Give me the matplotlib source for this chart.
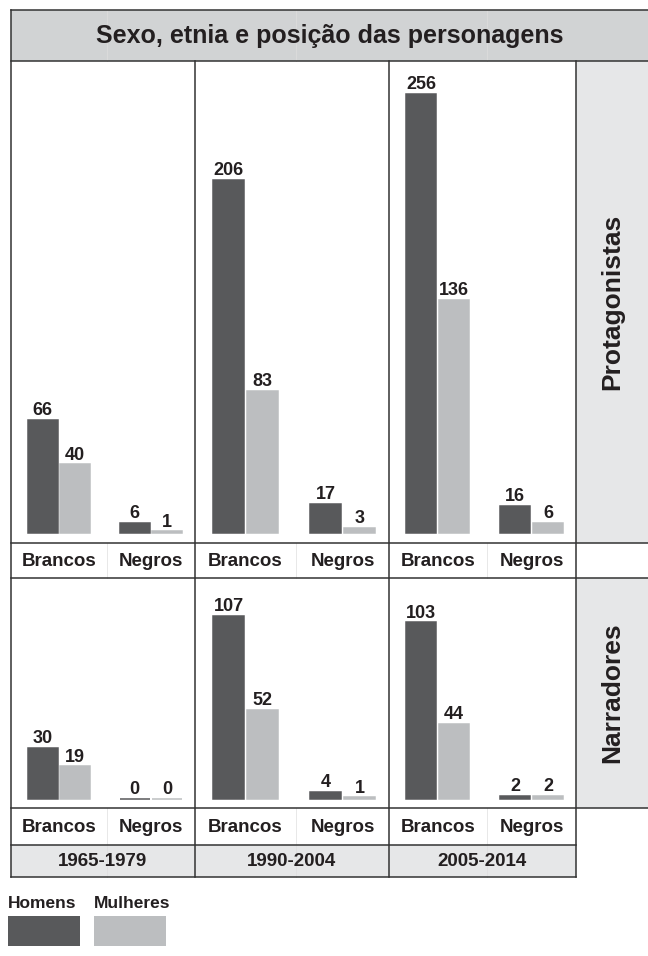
import numpy as np
import matplotlib.pyplot as plt
from matplotlib.patches import Rectangle

plt.rcParams['font.family'] = ['Liberation Sans', 'DejaVu Sans']
plt.rcParams['font.weight'] = 'bold'

titulo = "Sexo, etnia e posição das personagens"
periodos = ["1965-1979", "1990-2004", "2005-2014"]
categorias = ["Brancos", "Negros"]
linhas = ["Protagonistas", "Narradores"]
serie_nomes = ["Homens", "Mulheres"]

# [periodo][categoria]
protag_homens = [[66, 6], [206, 17], [256, 16]]
protag_mulheres = [[40, 1], [83, 3], [136, 6]]
narr_homens = [[30, 0], [107, 4], [103, 2]]
narr_mulheres = [[19, 0], [52, 1], [44, 2]]

dark = "#58595b"
light = "#bcbec0"
band = "#d1d3d4"
strip = "#e6e7e8"
ink = "#231f20"
line_c = "#333333"

W, H = 648, 956
fig = plt.figure(figsize=(W / 100, H / 100), dpi=100)
bg = fig.add_axes([0, 0, 1, 1])
bg.set_xlim(0, W)
bg.set_ylim(H, 0)
bg.axis("off")


def px_axes(x0, y0, x1, y1):
    return fig.add_axes([x0 / W, 1 - y1 / H, (x1 - x0) / W, (y1 - y0) / H])


# layout in pixels
col_x = [10.5, 194.5, 388.5, 576]
x_right = 648
y_top, y_title = 9.5, 60.5
y_p1, y_lab1, y_p2, y_lab2, y_per = 543, 578, 808, 845, 877
panel_rows = [(y_title, y_p1), (y_lab1, y_p2)]
ylims = [(-5.8, 275.6), (-5.25, 128.9)]
xlim = (-0.526, 1.474)
off, bw = 0.175, 0.32

# backgrounds
bg.add_patch(Rectangle((col_x[0], y_top), x_right - col_x[0], y_title - y_top, fc=band, ec="none"))
for (t, b) in panel_rows:
    bg.add_patch(Rectangle((col_x[3], t), x_right - col_x[3], b - t, fc=strip, ec="none"))
bg.add_patch(Rectangle((col_x[0], y_lab2), col_x[3] - col_x[0], y_per - y_lab2, fc=strip, ec="none"))

# very faint inner lines
for i in range(3):
    fx = col_x[i] + 0.525 * (col_x[i + 1] - col_x[i])
    for (t, b) in [(y_top, y_title), (y_p1, y_lab1), (y_p2, y_lab2), (y_lab2, y_per)]:
        bg.plot([fx, fx], [t, b], color="#dedede", lw=0.5)

# grid lines
for y in [y_top, y_title, y_p1, y_lab1, y_p2]:
    bg.plot([col_x[0], x_right], [y, y], color=line_c, lw=1.1)
for y in [y_lab2, y_per]:
    bg.plot([col_x[0], col_x[3]], [y, y], color=line_c, lw=1.1)
bg.plot([col_x[0], col_x[0]], [y_top, y_per], color=line_c, lw=1.1)
for x in col_x[1:]:
    bg.plot([x, x], [y_title, y_per], color=line_c, lw=1.1)

bg.text((col_x[0] + x_right) / 2, (y_top + y_title) / 2 + 1, titulo,
        ha="center", va="center", fontsize=18, color=ink, fontweight="bold")

dados = [(protag_homens, protag_mulheres), (narr_homens, narr_mulheres)]
xs = np.arange(len(categorias))
for r, (t, b) in enumerate(panel_rows):
    hom, mul = dados[r]
    for i in range(3):
        ax = px_axes(col_x[i], t, col_x[i + 1], b)
        ax.patch.set_alpha(0)
        ax.axis("off")
        for vals, dx, c in [(hom[i], -off, dark), (mul[i], off, light)]:
            ax.bar(xs + dx, vals, bw, color=c, edgecolor=c, lw=1.1)
            for xx, v in zip(xs + dx, vals):
                ax.annotate(str(v), (xx, v), xytext=(0, 0.5), textcoords="offset points",
                            ha="center", va="bottom", fontsize=13, color=ink, fontweight="bold")
        ax.set_xlim(*xlim)
        ax.set_ylim(*ylims[r])
    bg.text((col_x[3] + x_right) / 2, (t + b) / 2, linhas[r], rotation=90,
            ha="center", va="center", fontsize=19, color=ink, fontweight="bold")

# category and period labels
for i in range(3):
    w = col_x[i + 1] - col_x[i]
    for k, cat in enumerate(categorias):
        cx = col_x[i] + (k - xlim[0]) / (xlim[1] - xlim[0]) * w
        bg.text(cx, (y_p1 + y_lab1) / 2 + 1, cat, ha="center", va="center",
                fontsize=13.5, color=ink, fontweight="bold")
        bg.text(cx, (y_p2 + y_lab2) / 2 + 1, cat, ha="center", va="center",
                fontsize=13.5, color=ink, fontweight="bold")
    bg.text(col_x[i] + w / 2, (y_lab2 + y_per) / 2 + 1, periodos[i], ha="center", va="center",
            fontsize=13.5, color=ink, fontweight="bold")

# legend
for nome, lx, c in zip(serie_nomes, [8, 94], [dark, light]):
    bg.text(lx, 903, nome, ha="left", va="center", fontsize=12.5, color=ink, fontweight="bold")
    bg.add_patch(Rectangle((lx, 916), 72, 30, fc=c, ec="none"))

fig.savefig("out.png", dpi=100)
